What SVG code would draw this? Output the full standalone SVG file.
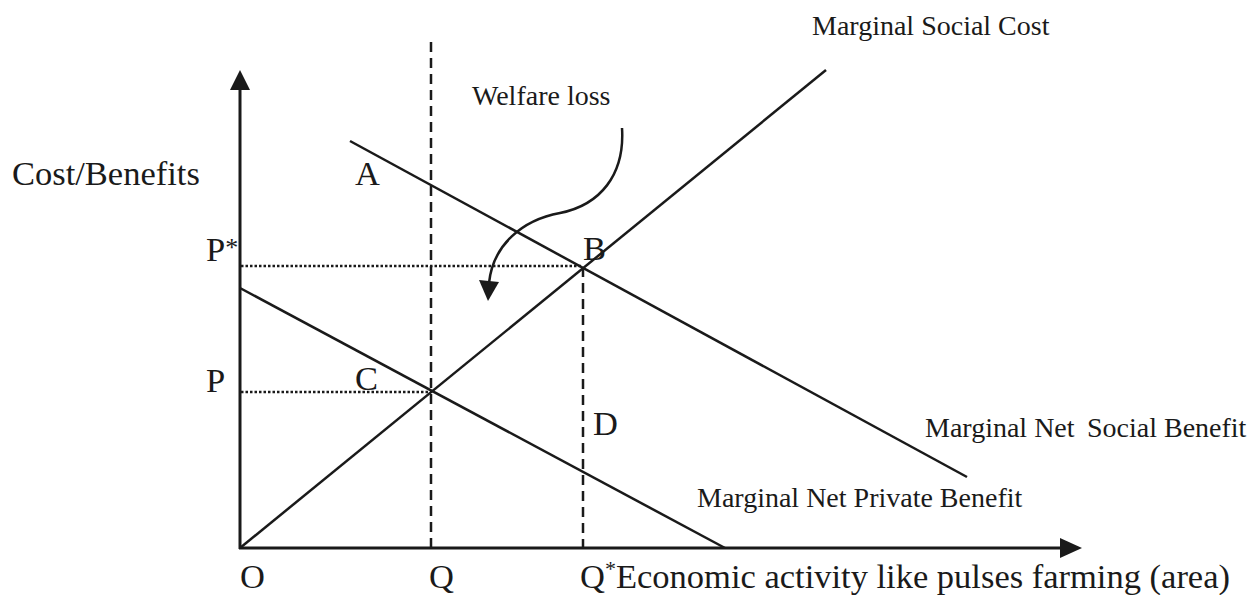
<svg xmlns="http://www.w3.org/2000/svg" width="1257" height="595" viewBox="0 0 1257 595">
<style>
.ax{stroke:#1a1a1a;stroke-width:3;fill:none}
.ln{stroke:#1a1a1a;stroke-width:2.5;fill:none}
.dash{stroke:#1a1a1a;stroke-width:2.5;stroke-dasharray:10 6;fill:none}
.dot{stroke:#1a1a1a;stroke-width:2.5;stroke-dasharray:2.5 2;fill:none}
.big{font-family:"Liberation Serif","Times New Roman",serif;font-size:34.5px;fill:#1a1a1a}
.sm{font-family:"Liberation Serif","Times New Roman",serif;font-size:28px;fill:#1a1a1a}
</style>
<rect width="1257" height="595" fill="#fff"/>
<g id="connectors">
<g id="axes">
<line class="ax" x1="240" y1="549" x2="240" y2="88"/>
<path d="M240,70 L250,90 L230,90 Z" fill="#1a1a1a"/>
<line class="ax" x1="239" y1="548" x2="1062" y2="548"/>
<path d="M1082,548 L1060,538 L1060,558 Z" fill="#1a1a1a"/>
</g>
<line class="dash" x1="431" y1="42" x2="431" y2="547"/>
<line class="dash" x1="583" y1="267" x2="583" y2="547"/>
<line class="dot" x1="241" y1="266" x2="583" y2="266"/>
<line class="dot" x1="241" y1="392" x2="431" y2="392"/>
<line id="msc" class="ln" x1="240" y1="548" x2="826" y2="70"/>
<line id="mnsb" class="ln" x1="350" y1="141" x2="967" y2="477"/>
<line id="mnpb" class="ln" x1="240" y1="288" x2="725" y2="548"/>
<path id="welfare-arrow" class="ln" d="M622,128 C625,175 600,205 560,213 C522,220 493,245 489,283"/>
<path d="M488,301 L479,280 L499,282 Z" fill="#1a1a1a"/>
</g>
<g id="labels">
<text class="big" x="12" y="185">Cost/Benefits</text>
<text class="sm" x="812" y="35">Marginal Social Cost</text>
<text class="sm" x="472" y="105">Welfare loss</text>
<text class="sm" x="925" y="437">Marginal Net <tspan x="1087">Social Benefit</tspan></text>
<text class="sm" x="697" y="507">Marginal Net Private Benefit</text>
<text class="big" x="355" y="185">A</text>
<text class="big" x="583" y="260">B</text>
<text class="big" x="355" y="390">C</text>
<text class="big" x="593" y="435">D</text>
<text class="big" x="206" y="261">P<tspan font-size="26" dy="-5">*</tspan></text>
<text class="big" x="206" y="392">P</text>
<text class="big" x="240" y="588">O</text>
<text class="big" x="429" y="588">Q</text>
<text class="big" x="580" y="588">Q<tspan font-size="22" dy="-12">*</tspan><tspan dy="12">Economic activity like pulses farming (area)</tspan></text>
</g>
</svg>
